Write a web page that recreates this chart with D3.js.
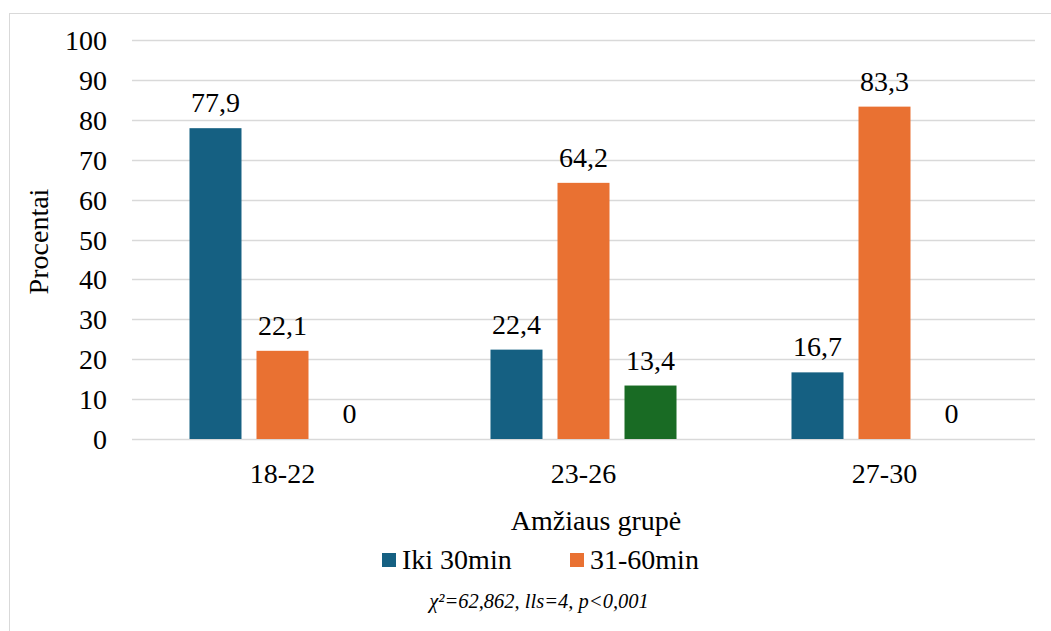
<!DOCTYPE html>
<html>
<head>
<meta charset="utf-8">
<script src="https://cdn.jsdelivr.net/npm/d3@7"></script>
<style>
  html, body { margin: 0; padding: 0; background: #fff; }
  svg { display: block; }
  svg text { font-family: "Liberation Serif", "Tinos", "Times New Roman", "Nimbus Roman", "DejaVu Serif", serif; }
</style>
</head>
<body>
<svg id="chart" width="1051" height="631"></svg>
<script>
// Age groups on the x axis
const categories = ["18-22", "23-26", "27-30"];
// Series (percent per age group)
const seriesNames = ["Iki 30min", "31-60min", "61+min"];
const iki30 = [77.9, 22.4, 16.7];
const min31_60 = [22.1, 64.2, 83.3];
const min61 = [0, 13.4, 0];
const seriesValues = [iki30, min31_60, min61];
const seriesColors = ["#156082", "#E97132", "#196B24"];
// Only the first two series appear in the legend
const legendSeries = [0, 1];
const yTicks = [0, 10, 20, 30, 40, 50, 60, 70, 80, 90, 100];
const yTitle = "Procentai";
const xTitle = "Amžiaus grupė";
const footnote = "χ²=62,862, lls=4, p<0,001";

const fmt = v => String(v).replace(".", ",");

const svg = d3.select("#chart");

// outer chart frame
svg.append("rect")
  .attr("x", 9.5).attr("y", 13.5)
  .attr("width", 1100).attr("height", 700)
  .attr("fill", "none").attr("stroke", "#d9d9d9").attr("stroke-width", 1);

const plot = { left: 132, right: 1035, top: 40, bottom: 439 };

const y = d3.scaleLinear().domain([0, 100]).range([plot.bottom, plot.top]);
const x0 = d3.scaleBand().domain(categories).range([plot.left, plot.right]).paddingInner(0).paddingOuter(0);
const x1 = d3.scaleBand().domain(d3.range(seriesNames.length))
  .range([0, x0.bandwidth()]).paddingInner(0.224).paddingOuter(0.858);

// gridlines
svg.append("g").selectAll("line").data(yTicks).join("line")
  .attr("x1", plot.left).attr("x2", plot.right)
  .attr("y1", d => Math.round(y(d)) + 0.5).attr("y2", d => Math.round(y(d)) + 0.5)
  .attr("stroke", "#d9d9d9").attr("stroke-width", 1.3);

// y axis tick labels
const yAxis = d3.axisLeft(y).tickValues(yTicks).tickSize(0).tickPadding(0);
const gy = svg.append("g").attr("transform", `translate(107,0)`).call(yAxis);
gy.attr("font-family", null).attr("font-size", null);
gy.select(".domain").remove();
gy.selectAll("text")
  .attr("font-size", 28).attr("fill", "#000").attr("dy", "0.34em");

// x axis category labels
const xAxis = d3.axisBottom(x0).tickSize(0).tickPadding(0);
const gx = svg.append("g").attr("transform", `translate(0,${plot.bottom})`).call(xAxis);
gx.attr("font-family", null).attr("font-size", null);
gx.select(".domain").remove();
gx.selectAll("text")
  .attr("font-size", 28).attr("fill", "#000").attr("dy", 0).attr("y", 44);

// bars and value labels
const groups = svg.append("g").selectAll("g").data(categories).join("g")
  .attr("transform", c => `translate(${x0(c)},0)`);

groups.each(function(c, ci) {
  const g = d3.select(this);
  const data = seriesValues.map((vals, si) => ({ si, v: vals[ci] }));
  g.selectAll("rect").data(data.filter(d => d.v > 0)).join("rect")
    .attr("x", d => x1(d.si)).attr("width", x1.bandwidth())
    .attr("y", d => y(d.v)).attr("height", d => y(0) - y(d.v))
    .attr("fill", d => seriesColors[d.si]);
  g.selectAll("text").data(data).join("text")
    .attr("x", d => x1(d.si) + x1.bandwidth() / 2)
    .attr("y", d => y(d.v) - 16)
    .attr("text-anchor", "middle")
    .attr("font-size", 28).attr("fill", "#000")
    .text(d => fmt(d.v));
});

// y axis title
svg.append("text")
  .attr("transform", `translate(48,${(plot.top + plot.bottom) / 2 + 2}) rotate(-90)`)
  .attr("text-anchor", "middle").attr("font-size", 28).attr("fill", "#000")
  .text(yTitle);

// x axis title
svg.append("text")
  .attr("x", 596).attr("y", 530)
  .attr("text-anchor", "middle").attr("font-size", 28).attr("fill", "#000")
  .text(xTitle);

// legend
const legendX = [382, 570];
const legend = svg.append("g").selectAll("g").data(legendSeries).join("g")
  .attr("transform", (d, i) => `translate(${legendX[i]},553)`);
legend.append("rect").attr("width", 14).attr("height", 14)
  .attr("fill", d => seriesColors[d]);
legend.append("text").attr("x", 20).attr("y", 16)
  .attr("font-size", 28).attr("fill", "#000")
  .text(d => seriesNames[d]);

// statistics note
svg.append("text")
  .attr("x", 539).attr("y", 608)
  .attr("text-anchor", "middle").attr("font-size", 20.5).attr("font-style", "italic")
  .attr("fill", "#000")
  .text(footnote);
</script>
</body>
</html>
